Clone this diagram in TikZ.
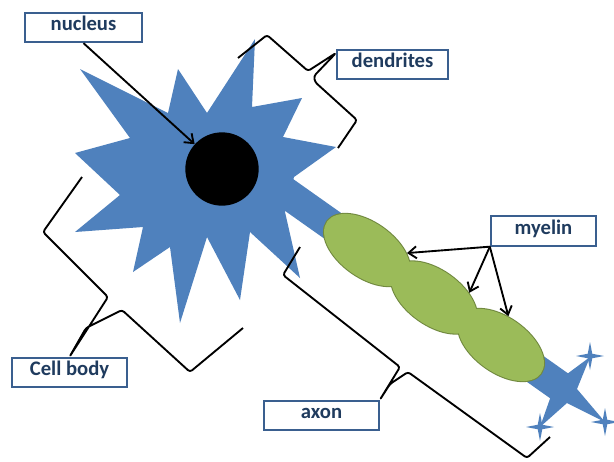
\documentclass[tikz,border=0pt]{standalone}
\usepackage{fontspec}
\setmainfont{Carlito}
\usetikzlibrary{shapes.geometric,arrows.meta}

\definecolor{cellblue}{HTML}{4F81BD}
\definecolor{myelingreen}{HTML}{9BBB59}
\definecolor{myelinedge}{HTML}{71893F}
\definecolor{tagline}{HTML}{3A5F8F}
\definecolor{tagtext}{HTML}{1F3B5E}

\tikzset{
  labelbox/.style={draw=tagline, line width=1.5pt, fill=white, minimum height=22pt,
    text height=0.72em, text depth=0.2em, text=tagtext,
    font=\bfseries\fontsize{15.5}{18}\selectfont},
  bracketline/.style={line width=1.4pt, rounded corners=2pt, line join=round},
  pointer/.style={line width=1.4pt, -{Straight Barb[length=6pt,width=9pt]}},
  myelin/.style={ellipse, inner sep=0pt, minimum width=73.5pt, minimum height=41pt, rotate=-35.4},
}

\begin{document}
\begin{tikzpicture}[x=0.75pt,y=-0.75pt]
  \useasboundingbox[fill=white] (0,0) rectangle (614,461);

  % axon and cell body
  \draw[cellblue, line width=23pt] (275,185) -- (565,390);
  \fill[cellblue] (80,69)
    \foreach \x/\y in {168/113,178/69,207/113,255/39,252/107,302/98,283/137,336/147,
                       294/177,285/212,300/278,250/232,240/300,207/237,180/323,170/247,
                       133/272,143/227,75/232,120/195,75/153,130/138} { -- (\x,\y) }
    -- cycle;

  % terminal
  \fill[cellblue] (535,369)
    \foreach \x/\y in {563/377,590/357,577/389,605/422,567/403,540/427,552/393} { -- (\x,\y) }
    -- cycle;
  \foreach \x/\y in {590/356,605/422,540/427}
    \fill[cellblue] (\x,\y) +(0:14)
      \foreach \a in {0,90,180,270} { -- +(\a+45:3.2) -- +(\a+90:14) } -- cycle;

  % myelin sheath
  \foreach \i/\x/\y in {1/367/250,2/434/297.5,3/501/345}
    \node[myelin, draw=myelinedge, line width=1.6pt] (m\i) at (\x,\y) {};
  \foreach \x/\y in {367/250,434/297.5,501/345}
    \node[myelin, fill=myelingreen] at (\x,\y) {};

  \node[circle, fill=black, inner sep=0pt, minimum size=55pt] (nucleus) at (222,169) {};

  % labels
  \node[labelbox, minimum width=88pt] (lbl-nucleus) at (83.5,27.5) {nucleus};
  \node[labelbox, minimum width=83pt] (lbl-dendrites) at (392.5,64.5) {dendrites};
  \node[labelbox, minimum width=79pt] (lbl-myelin) at (543.5,231) {myelin};
  \node[labelbox, minimum width=86pt] (lbl-cellbody) at (69.5,372.5) {Cell body};
  \node[labelbox, minimum width=86pt] (lbl-axon) at (321.5,415.5) {axon};

  % brackets
  \draw[bracketline] (238,58) -- (267,35) -- (308,71) -- ([yshift=-3pt]lbl-dendrites.north west)
    -- (314,76) -- (315,82) -- (357,120) -- (338,148);
  \draw[bracketline] (82,177) -- (43,232) -- (108,297) -- (lbl-cellbody.north)
    -- (86,328) -- (122,310) -- (190,372) -- (243,328);
  \draw[bracketline] (300,247) -- (283,275) -- (400,367) -- (lbl-axon.north east)
    -- (390,384) -- (408,372) -- (527,458) -- (550,437);

  % arrows
  \draw[pointer] (lbl-nucleus.south) -- (nucleus);
  \foreach \i/\a in {1/31,2/43,3/111}
    \draw[pointer] (lbl-myelin.south west) -- (m\i.\a);
\end{tikzpicture}
\end{document}
